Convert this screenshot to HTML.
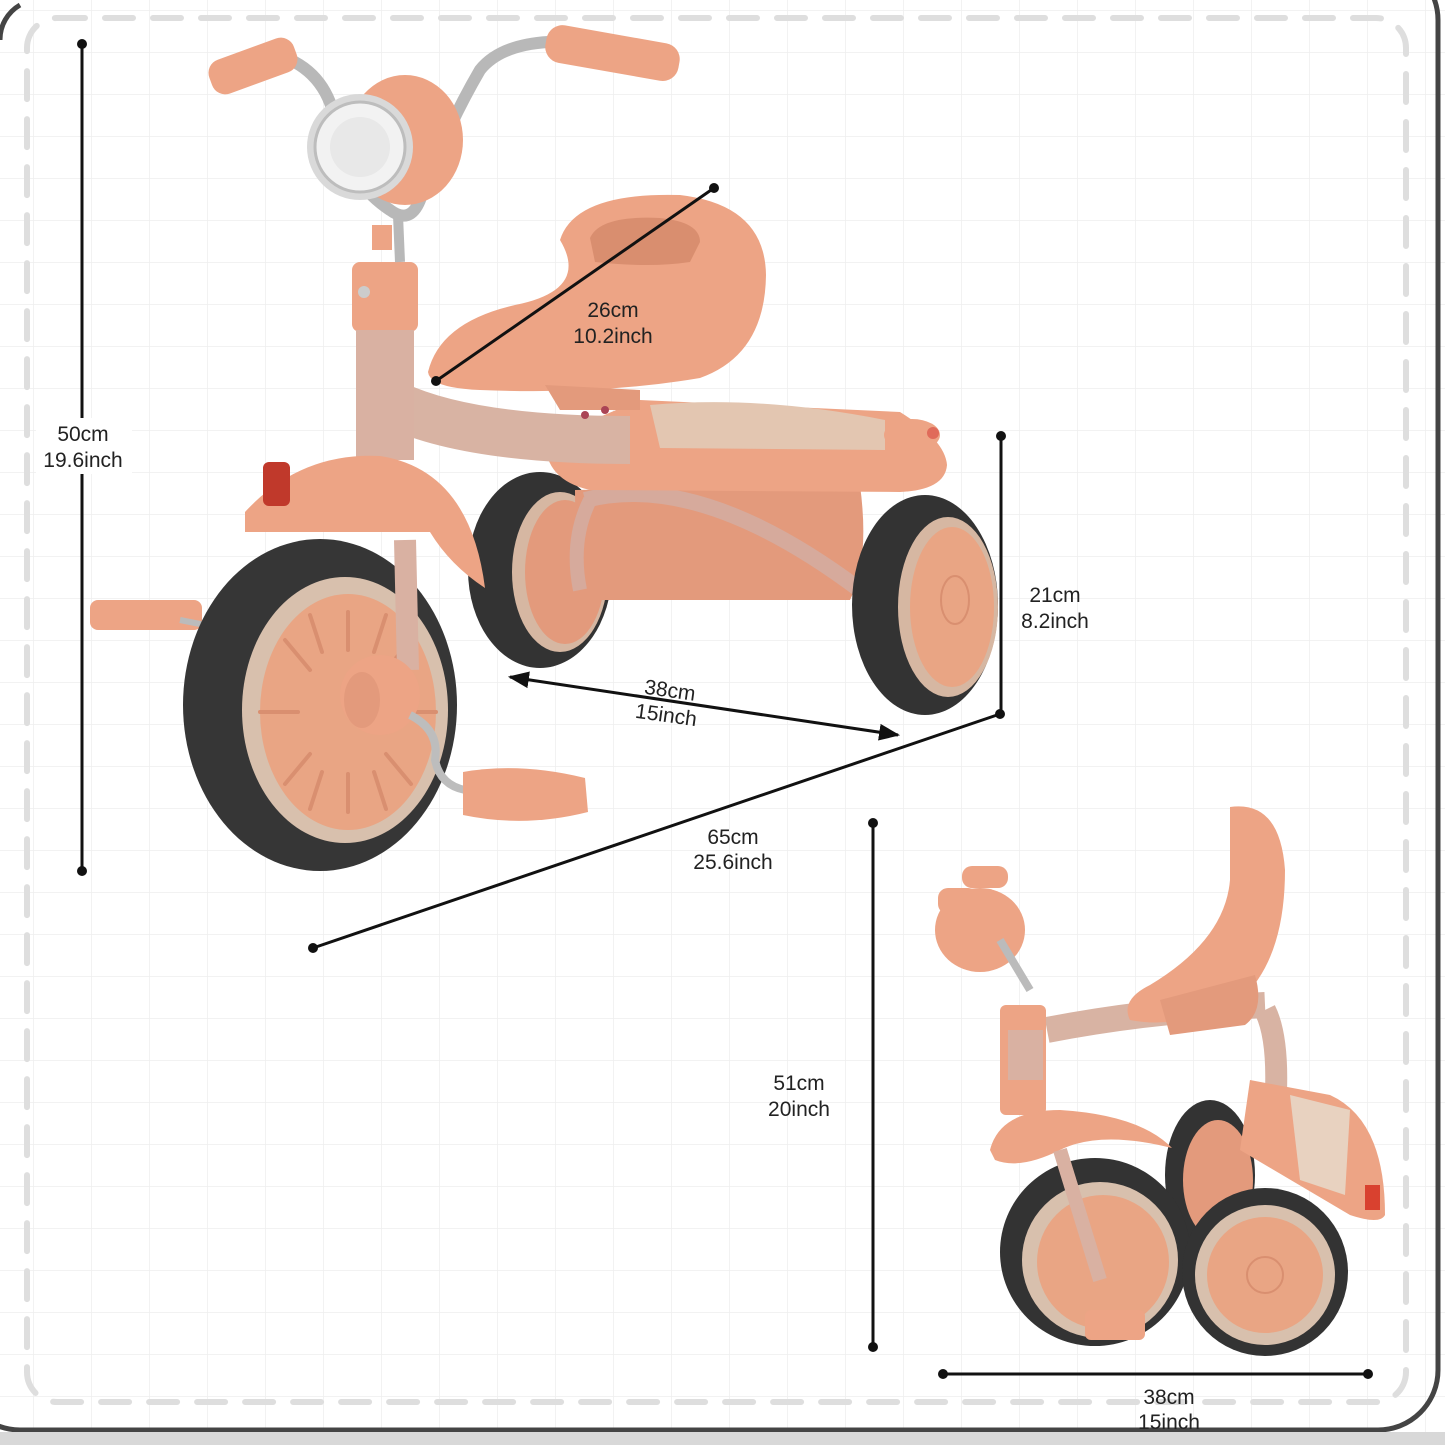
<!DOCTYPE html>
<html><head><meta charset="utf-8"><style>
html,body{margin:0;padding:0;background:#fff}
svg{display:block}
text{font-family:"Liberation Sans",sans-serif;font-size:21px;fill:#222;text-anchor:middle}
</style></head><body>
<svg width="1445" height="1445" viewBox="0 0 1445 1445" xmlns="http://www.w3.org/2000/svg">
<defs>
<pattern id="g" width="58" height="42" patternUnits="userSpaceOnUse" x="33" y="10">
<path d="M0 0H58M0 0V42" stroke="#eeeeee" stroke-width="1.5" fill="none"/>
</pattern>
<marker id="ar" viewBox="0 0 10 10" refX="9" refY="5" markerWidth="7" markerHeight="7" orient="auto-start-reverse"><path d="M0 1L10 5L0 9z" fill="#111"/></marker>
</defs>
<rect width="1445" height="1445" fill="#fff"/>
<rect width="1445" height="1445" fill="url(#g)"/>
<rect x="-40" y="-40" width="1478" height="1470" rx="60" fill="none" stroke="#444" stroke-width="5"/>
<path d="M0 40 A40 40 0 0 1 20 5" stroke="#444" stroke-width="5" fill="none"/>
<rect x="0" y="1432" width="1445" height="13" fill="#d8d8d8"/>
<rect x="27" y="18" width="1379" height="1384" rx="30" fill="none" stroke="#dedede" stroke-width="6" stroke-dasharray="28 20" stroke-linecap="round"/>

<!-- ===== Big trike ===== -->
<ellipse cx="540" cy="570" rx="72" ry="98" fill="#333"/>
<ellipse cx="560" cy="572" rx="48" ry="80" fill="#d6b7a2"/>
<ellipse cx="565" cy="572" rx="40" ry="72" fill="#e39a7c"/>
<path d="M575 490 L860 485 Q870 560 850 600 L590 600 Q575 560 575 490Z" fill="#e39a7c"/>
<path d="M585 500 Q700 470 860 590" stroke="#d6aa9c" stroke-width="16" fill="none"/>
<path d="M590 500 Q570 540 580 590" stroke="#d6aa9c" stroke-width="14" fill="none"/>
<path d="M545 440 L640 400 L900 412 Q945 440 947 465 Q945 490 900 492 L590 490 Q545 480 545 440Z" fill="#eda485"/>
<path d="M650 405 Q760 395 885 420 L885 450 L660 448Z" fill="#e3c6b1"/>
<ellipse cx="912" cy="435" rx="28" ry="16" fill="#eda485"/>
<circle cx="933" cy="433" r="6" fill="#e06b5a"/>
<ellipse cx="925" cy="605" rx="73" ry="110" fill="#333"/>
<ellipse cx="948" cy="607" rx="50" ry="90" fill="#d6b7a2"/>
<ellipse cx="952" cy="607" rx="42" ry="80" fill="#e9a584"/>
<ellipse cx="955" cy="600" rx="14" ry="24" fill="none" stroke="#d98f70" stroke-width="2"/>
<path d="M395 405 Q470 440 630 440" stroke="#d8b3a3" stroke-width="48" fill="none"/>
<rect x="352" y="262" width="66" height="70" rx="8" fill="#eda485"/>
<rect x="356" y="330" width="58" height="130" fill="#d9b1a2"/>
<circle cx="364" cy="292" r="6" fill="#ccc"/>
<path d="M428 372 Q440 322 515 305 Q590 290 560 240 Q575 192 680 195 Q765 205 766 275 Q765 355 700 378 Q600 395 480 390 Q430 388 428 372Z" fill="#eda485"/>
<path d="M545 385 L560 410 L640 410 L640 390Z" fill="#e39a7c"/>
<path d="M590 238 Q600 215 660 218 Q700 222 700 242 L690 262 Q650 268 595 262Z" fill="#d98e6f"/>
<circle cx="585" cy="415" r="4" fill="#a45"/><circle cx="605" cy="410" r="4" fill="#a45"/>
<path d="M278 55 Q325 70 335 120 Q345 180 390 210 Q410 225 420 200 Q445 130 480 70 Q500 45 548 42" stroke="#b8b8b8" stroke-width="12" fill="none"/>
<path d="M398 215 L400 262" stroke="#b8b8b8" stroke-width="10"/>
<rect x="208" y="48" width="90" height="36" rx="14" fill="#eda485" transform="rotate(-20 253 66)"/>
<rect x="545" y="34" width="135" height="38" rx="16" fill="#eda485" transform="rotate(10 612 53)"/>
<ellipse cx="405" cy="140" rx="58" ry="65" fill="#eda485"/>
<circle cx="360" cy="147" r="53" fill="#d9d9d9"/>
<circle cx="360" cy="147" r="45" fill="#f2f2f2" stroke="#bdbdbd" stroke-width="3"/>
<circle cx="360" cy="147" r="30" fill="#e8e8e8"/>
<rect x="372" y="225" width="20" height="25" fill="#eda485"/>
<path d="M245 512 Q300 452 380 456 Q470 470 485 588 Q450 565 430 532 L245 532Z" fill="#eda485"/>
<rect x="263" y="462" width="27" height="44" rx="6" fill="#c0392b"/>
<rect x="90" y="600" width="112" height="30" rx="8" fill="#eda485"/>
<path d="M180 620 L205 625" stroke="#bbb" stroke-width="6"/>
<ellipse cx="320" cy="705" rx="137" ry="166" fill="#363636"/>
<ellipse cx="345" cy="710" rx="103" ry="133" fill="#d8c0ad"/>
<ellipse cx="348" cy="712" rx="88" ry="118" fill="#e9a584"/>
<g stroke="#d98f70" stroke-width="4" stroke-linecap="round">
<path d="M348 612 L348 650M348 774 L348 812M260 712 L298 712M398 712 L436 712M285 640 L310 670M386 754 L411 784M285 784 L310 754M386 670 L411 640M310 615 L322 652M374 772 L386 809M310 809 L322 772M374 652 L386 615"/>
</g>
<path d="M405 540 L408 670" stroke="#d9b1a2" stroke-width="22"/>
<ellipse cx="380" cy="695" rx="40" ry="40" fill="#eda485"/>
<ellipse cx="362" cy="700" rx="18" ry="28" fill="#e39a7c"/>
<path d="M410 715 Q440 730 435 760 Q440 785 465 790" stroke="#bdbdbd" stroke-width="8" fill="none"/>
<path d="M463 772 Q520 762 585 778 L588 812 Q525 828 463 815Z" fill="#eda485"/>

<!-- ===== small trike ===== -->
<ellipse cx="1210" cy="1175" rx="45" ry="75" fill="#333"/>
<ellipse cx="1218" cy="1180" rx="35" ry="60" fill="#e39a7c"/>
<path d="M1047 1030 Q1150 1010 1265 1005" stroke="#d8b3a3" stroke-width="26" fill="none"/>
<path d="M1265 1010 Q1280 1040 1275 1110" stroke="#d8b3a3" stroke-width="22" fill="none"/>
<path d="M1250 1080 L1330 1095 Q1385 1120 1385 1215 Q1380 1225 1350 1215 L1240 1150Z" fill="#eda485"/>
<path d="M1290 1095 L1350 1110 L1345 1195 L1300 1180Z" fill="#e8d2c0"/>
<rect x="1365" y="1185" width="15" height="25" fill="#d9412f"/>
<path d="M1230 807 Q1280 800 1285 870 Q1285 960 1240 1000 Q1180 1030 1130 1020 Q1120 1000 1150 985 Q1225 940 1230 880Z" fill="#eda485"/>
<path d="M1160 1000 L1255 975 Q1265 1010 1245 1025 L1170 1035Z" fill="#e39a7c"/>
<rect x="1000" y="1005" width="46" height="110" rx="6" fill="#eda485"/>
<rect x="1008" y="1030" width="35" height="50" fill="#d9b1a2"/>
<path d="M990 1150 Q1000 1110 1060 1110 Q1140 1115 1172 1148 Q1100 1130 1060 1150 Q1020 1170 995 1160Z" fill="#eda485"/>
<ellipse cx="980" cy="930" rx="45" ry="42" fill="#eda485"/>
<rect x="938" y="888" width="40" height="26" rx="10" fill="#eda485"/>
<rect x="962" y="866" width="46" height="22" rx="10" fill="#eda485"/>
<path d="M1000 940 L1030 990" stroke="#bbb" stroke-width="8"/>
<ellipse cx="1095" cy="1252" rx="95" ry="94" fill="#333"/>
<ellipse cx="1100" cy="1260" rx="78" ry="78" fill="#d8c0ad"/>
<ellipse cx="1103" cy="1262" rx="66" ry="67" fill="#e9a584"/>
<path d="M1060 1150 L1100 1280" stroke="#d9b1a2" stroke-width="14"/>
<rect x="1085" y="1310" width="60" height="30" rx="6" fill="#eda485"/>
<ellipse cx="1265" cy="1272" rx="83" ry="84" fill="#333"/>
<ellipse cx="1265" cy="1275" rx="70" ry="70" fill="#d8c0ad"/>
<ellipse cx="1265" cy="1275" rx="58" ry="58" fill="#e9a584"/>
<circle cx="1265" cy="1275" r="18" fill="none" stroke="#d98f70" stroke-width="2"/>

<!-- ===== dimension lines ===== -->
<g stroke="#111" stroke-width="3" fill="none">
<line x1="82" y1="44" x2="82" y2="871"/>
<line x1="714" y1="188" x2="436" y2="381"/>
<line x1="1001" y1="436" x2="1001" y2="714"/>
<line x1="313" y1="948" x2="1000" y2="714"/>
<line x1="510" y1="677" x2="898" y2="735" marker-start="url(#ar)" marker-end="url(#ar)"/>
<line x1="873" y1="823" x2="873" y2="1347"/>
<line x1="943" y1="1374" x2="1368" y2="1374"/>
</g>
<g fill="#111">
<circle cx="82" cy="44" r="5"/><circle cx="82" cy="871" r="5"/>
<circle cx="714" cy="188" r="5"/><circle cx="436" cy="381" r="5"/>
<circle cx="1001" cy="436" r="5"/><circle cx="1000" cy="714" r="5"/>
<circle cx="313" cy="948" r="5"/>
<circle cx="873" cy="823" r="5"/><circle cx="873" cy="1347" r="5"/>
<circle cx="943" cy="1374" r="5"/><circle cx="1368" cy="1374" r="5"/>
</g>
<rect x="36" y="418" width="96" height="56" fill="#fff"/>
<text x="613" y="317">26cm</text><text x="613" y="343">10.2inch</text>
<text x="83" y="441">50cm</text><text x="83" y="467">19.6inch</text>
<text x="1055" y="602">21cm</text><text x="1055" y="628">8.2inch</text>
<text x="670" y="697" transform="rotate(8 668 690)">38cm</text>
<text x="666" y="722" transform="rotate(8 666 716)">15inch</text>
<text x="733" y="844">65cm</text><text x="733" y="869">25.6inch</text>
<text x="799" y="1090">51cm</text><text x="799" y="1116">20inch</text>
<text x="1169" y="1404">38cm</text><text x="1169" y="1429">15inch</text>
</svg>
</body></html>
